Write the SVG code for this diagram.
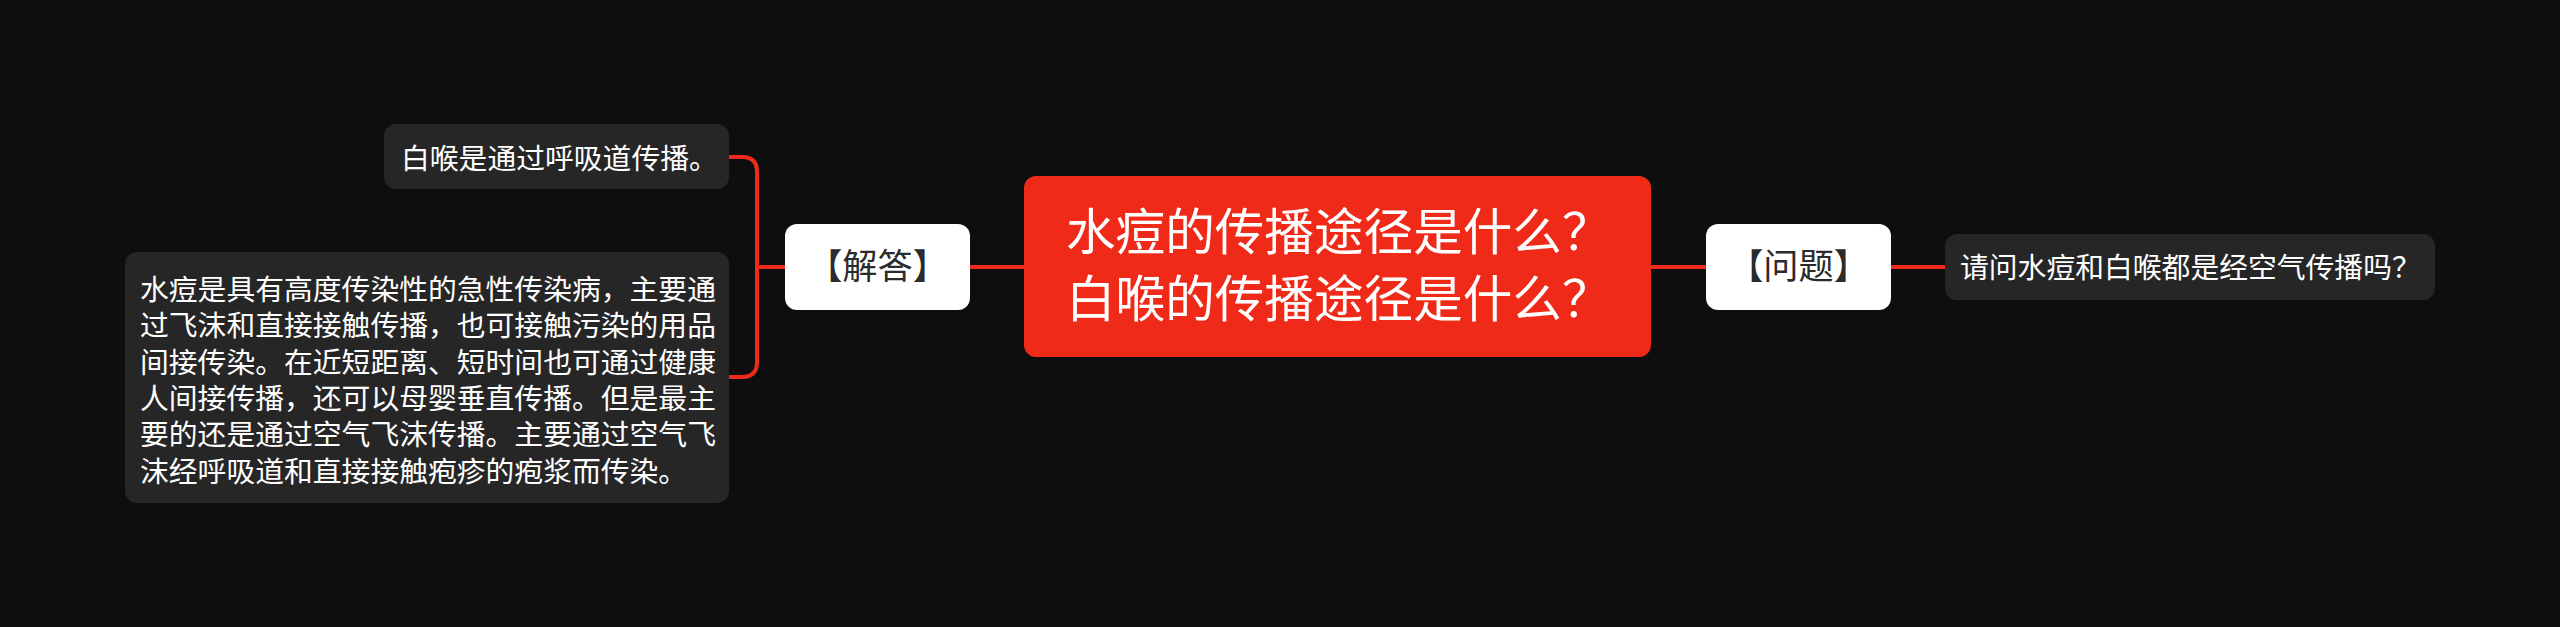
<svg xmlns="http://www.w3.org/2000/svg" width="2560" height="627" viewBox="0 0 2560 627">
<style>
.bg{fill:#0e0e0e}
.link{fill:none;stroke:#ef2a1b;stroke-width:4}
.leaf{fill:#262626}
.tag{fill:#ffffff}
.txt{font-family:"Noto Sans CJK SC","Noto Sans",sans-serif}
.lt{fill:#ffffff;font-size:28.8px}
.tt{fill:#2b2b2b;font-size:35.2px}
.ct{fill:#ffffff;font-size:49.6px}
</style>
<rect class="bg" x="0" y="0" width="2560" height="627"/>
<g id="connectors">
<path class="link" d="M1024 267 H970"/>
<path class="link" d="M1651 267 H1706"/>
<path class="link" d="M1891 267 H1945"/>
<path class="link" d="M785 267 H757"/>
<path class="link" d="M729 157 H742 Q757 157 757 172 V362 Q757 377 742 377 H729"/>
</g>
<g id="root">
<rect x="1024" y="176" width="627" height="181" rx="12" fill="#ef2a18"/>
<text class="txt ct" x="1066" y="249.5">水痘的传播途径是什么？</text>
<text class="txt ct" x="1066" y="317">白喉的传播途径是什么？</text>
</g>
<g id="answer">
<rect class="tag" x="785" y="224" width="185" height="86" rx="12"/>
<text class="txt tt" x="877.5" y="279" text-anchor="middle">【解答】</text>
</g>
<g id="question">
<rect class="tag" x="1706" y="224" width="185" height="86" rx="12"/>
<text class="txt tt" x="1798.5" y="279" text-anchor="middle">【问题】</text>
</g>
<g id="leaf-q">
<rect class="leaf" x="1945" y="234" width="490" height="66" rx="12"/>
<text class="txt lt" x="1960" y="278">请问水痘和白喉都是经空气传播吗？</text>
</g>
<g id="leaf-a1">
<rect class="leaf" x="384" y="124" width="345" height="65" rx="12"/>
<text class="txt lt" x="401" y="169">白喉是通过呼吸道传播。</text>
</g>
<g id="leaf-a2">
<rect class="leaf" x="125" y="252" width="604" height="251" rx="12"/>
<text class="txt lt">
<tspan x="140" y="300">水痘是具有高度传染性的急性传染病，主要通</tspan>
<tspan x="140" y="336.3">过飞沫和直接接触传播，也可接触污染的用品</tspan>
<tspan x="140" y="372.6">间接传染。在近短距离、短时间也可通过健康</tspan>
<tspan x="140" y="408.9">人间接传播，还可以母婴垂直传播。但是最主</tspan>
<tspan x="140" y="445.2">要的还是通过空气飞沫传播。主要通过空气飞</tspan>
<tspan x="140" y="481.5">沫经呼吸道和直接接触疱疹的疱浆而传染。</tspan>
</text>
</g>
</svg>
